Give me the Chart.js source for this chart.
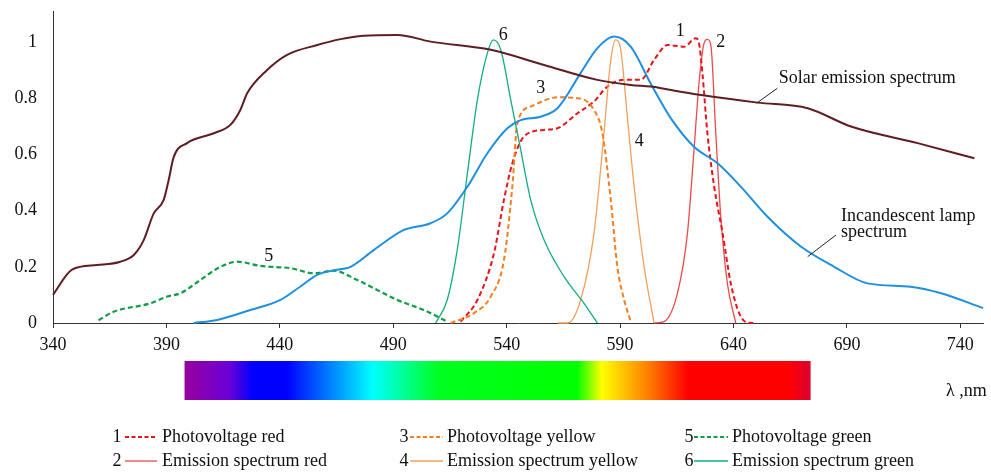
<!DOCTYPE html>
<html>
<head>
<meta charset="utf-8">
<script src="https://cdn.jsdelivr.net/npm/chart.js@4.4.0/dist/chart.umd.min.js"></script>
<style>
html,body{margin:0;padding:0;background:#fff;}
#wrap{position:relative;width:991px;height:473px;}
</style>
</head>
<body>
<div id="wrap"><canvas id="c"></canvas></div>
<script>
// ---- data ----
const xTicks = [340, 390, 440, 490, 540, 590, 640, 690, 740];
const yTicks = [0, 0.2, 0.4, 0.6, 0.8, 1];

const solarWl = [340, 348.4, 359.4, 369.7, 375.6, 380, 384.4, 388.8, 391, 393.2, 399.1, 410.9, 418.2, 422.6, 425.6, 434.4, 443.2, 456.5, 466.8, 477, 491.8, 506.5, 533, 556.5, 580, 594.7, 603.6, 612.4, 625.7, 650.6, 672.7, 691.8, 721.2, 746.2];
const solarVal = [0.10, 0.19, 0.206, 0.218, 0.242, 0.295, 0.39, 0.438, 0.509, 0.59, 0.64, 0.675, 0.705, 0.758, 0.817, 0.90, 0.954, 0.989, 1.01, 1.022, 1.025, 1.001, 0.972, 0.918, 0.865, 0.847, 0.841, 0.829, 0.811, 0.784, 0.764, 0.699, 0.64, 0.586];

const lampWl = [402, 412.4, 427, 440.3, 449.1, 456.5, 464, 471.2, 481.5, 494.7, 506.5, 513.8, 522.7, 531.5, 540.3, 546.2, 555, 562.4, 572.6, 580, 587.3, 594.7, 603.6, 612.4, 622.6, 633, 643.2, 655, 669.7, 684.4, 699.1, 718.1, 731.5, 750];
const lampVal = [0, 0.011, 0.046, 0.082, 0.13, 0.171, 0.188, 0.2, 0.26, 0.331, 0.355, 0.39, 0.485, 0.604, 0.693, 0.722, 0.734, 0.764, 0.889, 0.978, 1.019, 0.983, 0.85, 0.728, 0.627, 0.568, 0.485, 0.378, 0.272, 0.2, 0.141, 0.129, 0.106, 0.053];

const pvRedWl = [519.7, 527.1, 534.4, 538.8, 542.5, 547.6, 556.5, 562.4, 571.2, 578.5, 584.4, 591.8, 599.1, 605, 611, 618.2, 623.4, 624.8, 626.3, 628.5, 631.5, 635.2, 638.8, 642.5, 646.2, 649.2];
const pvRedVal = [0.005, 0.082, 0.248, 0.438, 0.568, 0.663, 0.687, 0.693, 0.746, 0.788, 0.841, 0.865, 0.865, 0.936, 0.989, 0.983, 1.013, 0.995, 0.889, 0.675, 0.485, 0.319, 0.141, 0.035, 0.001, 0];

const emRedWl = [605, 609.4, 615.3, 619.7, 622.6, 624.8, 627, 628.5, 630, 632.2, 634.4, 637.3, 641];
const emRedVal = [0, 0.005, 0.106, 0.319, 0.616, 0.853, 0.995, 1.009, 0.989, 0.675, 0.378, 0.141, 0];

const pvYellowWl = [515.3, 525.6, 533, 538.8, 542.5, 544.7, 550.6, 562.4, 571.2, 578.5, 582.2, 585.9, 588.8, 591.8, 594.7];
const pvYellowVal = [0, 0.035, 0.094, 0.224, 0.485, 0.71, 0.77, 0.803, 0.8, 0.758, 0.675, 0.438, 0.2, 0.082, 0.005];

const emYellowWl = [562.4, 566.8, 572.6, 578.5, 582.9, 585.9, 588.1, 590.3, 593.2, 596.2, 600.6, 605];
const emYellowVal = [0, 0, 0.082, 0.319, 0.675, 0.936, 1.007, 0.972, 0.734, 0.485, 0.2, 0];

const pvGreenWl = [360.1, 366.7, 382.9, 390.3, 396.2, 405, 413.8, 421.2, 431.5, 444.7, 455, 463.8, 474.1, 491.8, 503.5, 513.8];
const pvGreenVal = [0.01, 0.04, 0.07, 0.094, 0.106, 0.153, 0.2, 0.218, 0.203, 0.195, 0.177, 0.186, 0.153, 0.082, 0.046, 0.005];

const emGreenWl = [508.7, 513.8, 518.2, 522.7, 527.1, 531.5, 534.1, 537.4, 541.8, 546.2, 550.6, 556.5, 565.3, 574.1, 580];
const emGreenVal = [0, 0.082, 0.26, 0.533, 0.794, 0.96, 1.007, 0.972, 0.794, 0.616, 0.438, 0.295, 0.165, 0.07, 0];

const seriesNames = ['Photovoltage red', 'Emission spectrum red', 'Photovoltage yellow', 'Emission spectrum yellow', 'Photovoltage green', 'Emission spectrum green'];
const seriesNums = ['1', '2', '3', '4', '5', '6'];
const solarLabel = 'Solar emission spectrum';
const lampLabel = ['Incandescent lamp', 'spectrum'];
const axisLabel = 'λ ,nm';

// ---- helpers ----
const pts = (xs, ys) => xs.map((x, i) => ({x: x, y: ys[i]}));
const FONT = '"Liberation Serif", "Times New Roman", serif';

const C = {
  solar: '#5e1e22', lamp: '#1f8fe0',
  pvRed: '#e8141c', emRed: '#ec4a4a',
  pvYellow: '#f47f20', emYellow: '#f5a05a',
  pvGreen: '#119c48', emGreen: '#12ad84'
};

function ds(label, data, color, dashed, width) {
  return {label: label, data: data, borderColor: color, backgroundColor: color,
    borderWidth: width, borderDash: dashed ? [5, 3] : [], pointRadius: 0,
    fill: false, cubicInterpolationMode: 'monotone', clip: 2};
}

const datasets = [
  ds(solarLabel, pts(solarWl, solarVal), C.solar, false, 2),
  ds(lampLabel.join(' '), pts(lampWl, lampVal), C.lamp, false, 2),
  ds(seriesNames[4], pts(pvGreenWl, pvGreenVal), C.pvGreen, true, 2.2),
  ds(seriesNames[5], pts(emGreenWl, emGreenVal), C.emGreen, false, 1.3),
  ds(seriesNames[2], pts(pvYellowWl, pvYellowVal), C.pvYellow, true, 2),
  ds(seriesNames[3], pts(emYellowWl, emYellowVal), C.emYellow, false, 1.3),
  ds(seriesNames[0], pts(pvRedWl, pvRedVal), C.pvRed, true, 2),
  ds(seriesNames[1], pts(emRedWl, emRedVal), C.emRed, false, 1.3)
];

const legendStyle = [
  {color: C.pvRed, dashed: true}, {color: C.emRed, dashed: false},
  {color: C.pvYellow, dashed: true}, {color: C.emYellow, dashed: false},
  {color: C.pvGreen, dashed: true}, {color: C.emGreen, dashed: false}
];

const extras = {
  id: 'extras',
  afterDraw(chart) {
    const ctx = chart.ctx, xs = chart.scales.x, ys = chart.scales.y;
    const X = v => xs.getPixelForValue(v), Y = v => ys.getPixelForValue(v);
    ctx.save();
    // rainbow spectrum bar
    const x0 = X(398), x1 = X(674);
    const g = ctx.createLinearGradient(x0, 0, x1, 0);
    const stops = [[398, '#98009c'], [418, '#6a00d8'], [428, '#0000ff'], [443, '#0000ff'],
      [481, '#00ffff'], [510, '#00ff20'], [571, '#00ff00'], [582, '#ffff00'],
      [603, '#ff7a00'], [620, '#ff0000'], [664, '#ff0000'], [674, '#dc0030']];
    stops.forEach(s => g.addColorStop((X(s[0]) - x0) / (x1 - x0), s[1]));
    ctx.fillStyle = g;
    ctx.fillRect(x0, 361, x1 - x0, 39);

    ctx.fillStyle = '#111';
    ctx.font = '18px ' + FONT;
    ctx.textBaseline = 'middle';
    ctx.textAlign = 'left';
    ctx.fillText(axisLabel, 946, 391);

    // curve number labels
    ctx.textAlign = 'center';
    const nums = [['1', 616.5, 1.037], ['2', 634.4, 0.997], ['3', 555, 0.836],
      ['4', 598.4, 0.645], ['5', 435.1, 0.236], ['6', 538.5, 1.025]];
    nums.forEach(n => ctx.fillText(n[0], X(n[1]), Y(n[2])));

    // named curve labels with leader lines
    ctx.textAlign = 'left';
    ctx.fillText(solarLabel, X(660), Y(0.872));
    ctx.fillText(lampLabel[0], X(687.4), Y(0.381));
    ctx.fillText(lampLabel[1], X(687.4), Y(0.324));
    ctx.strokeStyle = '#222';
    ctx.lineWidth = 1;
    ctx.beginPath();
    ctx.moveTo(X(659.3), Y(0.835)); ctx.lineTo(X(650.2), Y(0.782));
    ctx.moveTo(X(685.2), Y(0.313)); ctx.lineTo(X(672.7), Y(0.236));
    ctx.stroke();

    // legend
    const cols = [[117, 125, 157, 162], [404, 410, 443, 447], [689, 694, 728, 732]];
    const rows = [437, 461];
    for (let i = 0; i < 6; i++) {
      const c = cols[Math.floor(i / 2)], y = rows[i % 2], st = legendStyle[i];
      ctx.fillStyle = '#111';
      ctx.textAlign = 'center';
      ctx.fillText(seriesNums[i], c[0], y);
      ctx.textAlign = 'left';
      ctx.fillText(seriesNames[i], c[3], y);
      ctx.strokeStyle = st.color;
      ctx.lineWidth = st.dashed ? 2 : 1.3;
      ctx.setLineDash(st.dashed ? [4, 2.5] : []);
      ctx.beginPath();
      ctx.moveTo(c[1], y); ctx.lineTo(c[2], y);
      ctx.stroke();
      ctx.setLineDash([]);
    }
    ctx.restore();
  }
};

new Chart(document.getElementById('c'), {
  type: 'line',
  data: {datasets: datasets},
  options: {
    responsive: true, maintainAspectRatio: false, animation: false,
    layout: {padding: {top: 11, right: 8, left: 0, bottom: 0}},
    plugins: {legend: {display: false}, tooltip: {enabled: false}},
    scales: {
      x: {
        type: 'linear', min: 340, max: 750,
        afterBuildTicks: s => { s.ticks = xTicks.map(v => ({value: v})); },
        afterFit: s => { s.height = 150; },
        grid: {drawOnChartArea: false, drawTicks: true, tickLength: 5, color: '#333', tickColor: '#333'},
        border: {display: true, color: '#333', width: 1},
        ticks: {color: '#111', font: {family: FONT, size: 18}, padding: 6, maxRotation: 0, autoSkip: false}
      },
      y: {
        type: 'linear', min: 0, max: 1.11,
        afterBuildTicks: s => { s.ticks = yTicks.map(v => ({value: v})); },
        afterFit: s => { s.width = 53; s.paddingTop = 0; s.paddingBottom = 0; },
        grid: {drawOnChartArea: false, drawTicks: false},
        border: {display: true, color: '#333', width: 1},
        ticks: {color: '#111', font: {family: FONT, size: 18}, padding: 16,
          callback: v => String(Math.round(v * 10) / 10)}
      }
    }
  },
  plugins: [extras]
});
</script>
</body>
</html>
